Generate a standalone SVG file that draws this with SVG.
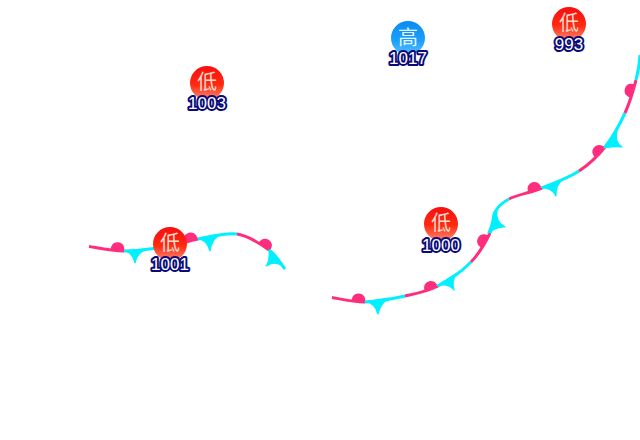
<svg xmlns="http://www.w3.org/2000/svg" width="640" height="440" viewBox="0 0 640 440">
<style>
.w{fill:none;stroke:#ff2d7e;stroke-width:3}
.c{fill:none;stroke:#00f0ff;stroke-width:3}
.b{fill:#ff2d7e}
.t{fill:#00f0ff;stroke:#00f0ff;stroke-width:1.2;stroke-linejoin:round}
.g{font-family:"Noto Sans CJK SC","Noto Sans",sans-serif;font-size:20px;text-anchor:middle;fill:#ffdcd0}
.n{font-family:"Liberation Sans",Arial,sans-serif;font-size:17px;text-anchor:middle;fill:#fff;stroke:#0a0a78;stroke-width:4px;paint-order:stroke;stroke-linejoin:round}
</style>
<defs>
<linearGradient id="lo" x1="0" y1="0" x2="0" y2="1"><stop offset="0" stop-color="#f70f0f"/><stop offset=".55" stop-color="#ff2a10"/><stop offset="1" stop-color="#ff8a70"/></linearGradient>
<linearGradient id="hi" x1="0" y1="0" x2="0" y2="1"><stop offset="0" stop-color="#0a8cf0"/><stop offset=".6" stop-color="#1ba0fa"/><stop offset="1" stop-color="#60c0ff"/></linearGradient>
<path id="dome" class="b" d="M-7,0C-7,-4 -5.500,-8.500 0,-8.500C5.500,-8.500 7,-4 7,0Z"/>
</defs>
<g id="connectors">
<g id="front-1">
<use href="#dome" transform="translate(117.500,250.800) rotate(2)"/>
<use href="#dome" transform="translate(191,241) rotate(-14)"/>
<use href="#dome" transform="translate(264,247) rotate(36)"/>
<path class="w" d="M89,246.500C94.800,247.250 110.500,251.080 124,251"/>
<path class="c" d="M124,251C137.500,250.920 157.670,248 170,246"/>
<path class="w" d="M170,246C182.330,244 186.830,241 198,239"/>
<path class="c" d="M198,239C209.170,237 225.170,232.170 237,234"/>
<path class="w" d="M237,234C248.830,235.830 261,244.170 269,250"/>
<path class="c" d="M269,250C277,255.830 280,263 285,269"/>
<path class="t" d="M124,250.500Q132,252 135,263Q137,252 148,249Z"/>
<path class="t" d="M198,239Q207,240 210,251Q211,241 219,235Z"/>
<path class="t" d="M269,250Q270,261 266,266Q274,261 281,265Z"/>
</g>
<g id="front-2">
<use href="#dome" transform="translate(358.500,302) rotate(3)"/>
<use href="#dome" transform="translate(431.500,289.500) rotate(-20)"/>
<use href="#dome" transform="translate(485.500,242) rotate(-62)"/>
<use href="#dome" transform="translate(535,190.500) rotate(-20)"/>
<use href="#dome" transform="translate(600.500,153) rotate(-48)"/>
<use href="#dome" transform="translate(633,91) rotate(-74)"/>
<path class="w" d="M332,297.500C337.500,298.250 352.800,302.250 365,302"/>
<path class="c" d="M365,302C377.200,301.750 392.800,298.700 405,296"/>
<path class="w" d="M405,296C417.200,293.300 427,291.670 438,286"/>
<path class="c" d="M438,286C449,280.330 462.330,270.830 471,262"/>
<path class="w" d="M471,262C479.670,253.170 486,241.330 490,233"/>
<path class="c" d="M490,233C494,224.670 491.830,217.670 495,212C498.170,206.330 501.170,203 509,199"/>
<path class="w" d="M509,199C516.830,195 530.330,192.670 542,188"/>
<path class="c" d="M542,188C553.670,183.330 568.500,177.830 579,171"/>
<path class="w" d="M579,171C589.500,164.170 597.330,156.670 605,147"/>
<path class="c" d="M605,147C612.670,137.330 619.830,124.170 625,113"/>
<path class="w" d="M625,113C630.170,101.830 633.500,89.670 636,80"/>
<path class="c" d="M636,80C638.500,70.330 639.500,64 640,55"/>
<path class="t" d="M365,301.500Q375,303 378,314Q380,304 389,298Z"/>
<path class="t" d="M437,285.500Q449,283 454,290Q451,281 457,273Z"/>
<path class="t" d="M488,233Q498,226 505,227Q495,222 497,209Z"/>
<path class="t" d="M541,187.500Q552,188 556,196Q555,186 563,179Z"/>
<path class="t" d="M604,148Q615,146 622,147Q614,142 617,131Z"/>
</g>
</g>
<g id="low-1003"><circle cx="207" cy="83" r="17" fill="url(#lo)"/><text class="g" x="207" y="89">低</text><text class="n" x="207" y="109">1003</text></g>
<g id="low-1001"><circle cx="170" cy="244" r="17" fill="url(#lo)"/><text class="g" x="170" y="250">低</text><text class="n" x="170" y="270">1001</text></g>
<g id="low-1000"><circle cx="441" cy="224" r="17" fill="url(#lo)"/><text class="g" x="441" y="230">低</text><text class="n" x="441" y="251">1000</text></g>
<g id="low-993"><circle cx="569" cy="24" r="17" fill="url(#lo)"/><text class="g" x="569" y="30">低</text><text class="n" x="569" y="50">993</text></g>
<g id="high-1017"><circle cx="408" cy="38" r="17" fill="url(#hi)"/><text class="g" x="408" y="45" style="fill:#e4f4ff">高</text><text class="n" x="408" y="64">1017</text></g>
</svg>
